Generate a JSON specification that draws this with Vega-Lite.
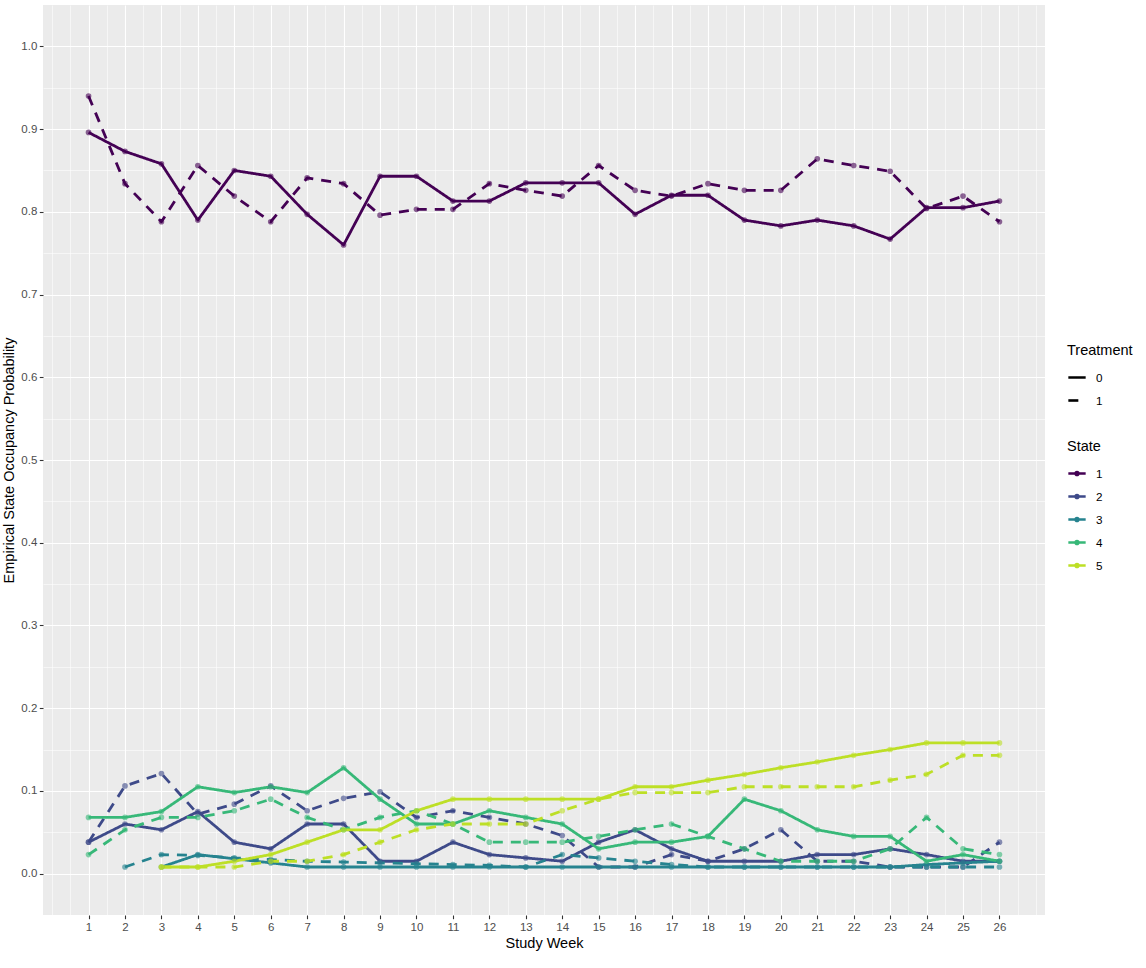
{
  "$schema": "https://vega.github.io/schema/vega-lite/v6.json",
  "width": 1002,
  "height": 910,
  "autosize": {"type": "none"},
  "padding": {"left": 43, "top": 5, "right": 101, "bottom": 53},
  "background": "white",
  "config": {
    "view": {"fill": "#EBEBEB", "stroke": null},
    "font": "Liberation Sans",
    "axis": {
      "domain": false,
      "gridColor": "white",
      "tickColor": "#333333",
      "tickWidth": 1.1,
      "tickSize": 3.7,
      "labelColor": "#4D4D4D",
      "labelFontSize": 11.5,
      "labelFont": "Liberation Sans",
      "titleFont": "Liberation Sans",
      "titleFontSize": 14.5,
      "titleFontWeight": "normal",
      "titleColor": "black"
    },
    "legend": {
      "titleFont": "Liberation Sans",
      "labelFont": "Liberation Sans",
      "titleFontSize": 14.5,
      "titleFontWeight": "normal",
      "titleColor": "black",
      "labelFontSize": 11.7,
      "labelColor": "black",
      "symbolType": "stroke",
      "symbolSize": 300,
      "symbolStrokeWidth": 2.6,
      "rowPadding": 6,
      "titlePadding": 9,
      "labelOffset": 9
    }
  },
  "data": {
    "values": [
      {"week":1,"state":"1","treatment":"0","prob":0.896},{"week":2,"state":"1","treatment":"0","prob":0.873},{"week":3,"state":"1","treatment":"0","prob":0.858},{"week":4,"state":"1","treatment":"0","prob":0.790},{"week":5,"state":"1","treatment":"0","prob":0.850},{"week":6,"state":"1","treatment":"0","prob":0.843},{"week":7,"state":"1","treatment":"0","prob":0.797},{"week":8,"state":"1","treatment":"0","prob":0.760},{"week":9,"state":"1","treatment":"0","prob":0.843},{"week":10,"state":"1","treatment":"0","prob":0.843},{"week":11,"state":"1","treatment":"0","prob":0.813},{"week":12,"state":"1","treatment":"0","prob":0.813},{"week":13,"state":"1","treatment":"0","prob":0.835},{"week":14,"state":"1","treatment":"0","prob":0.835},{"week":15,"state":"1","treatment":"0","prob":0.835},{"week":16,"state":"1","treatment":"0","prob":0.797},{"week":17,"state":"1","treatment":"0","prob":0.820},{"week":18,"state":"1","treatment":"0","prob":0.820},{"week":19,"state":"1","treatment":"0","prob":0.790},{"week":20,"state":"1","treatment":"0","prob":0.783},{"week":21,"state":"1","treatment":"0","prob":0.790},{"week":22,"state":"1","treatment":"0","prob":0.783},{"week":23,"state":"1","treatment":"0","prob":0.767},{"week":24,"state":"1","treatment":"0","prob":0.805},{"week":25,"state":"1","treatment":"0","prob":0.805},{"week":26,"state":"1","treatment":"0","prob":0.813},
      {"week":1,"state":"1","treatment":"1","prob":0.940},{"week":2,"state":"1","treatment":"1","prob":0.834},{"week":3,"state":"1","treatment":"1","prob":0.788},{"week":4,"state":"1","treatment":"1","prob":0.856},{"week":5,"state":"1","treatment":"1","prob":0.819},{"week":6,"state":"1","treatment":"1","prob":0.788},{"week":7,"state":"1","treatment":"1","prob":0.841},{"week":8,"state":"1","treatment":"1","prob":0.834},{"week":9,"state":"1","treatment":"1","prob":0.796},{"week":10,"state":"1","treatment":"1","prob":0.803},{"week":11,"state":"1","treatment":"1","prob":0.803},{"week":12,"state":"1","treatment":"1","prob":0.834},{"week":13,"state":"1","treatment":"1","prob":0.826},{"week":14,"state":"1","treatment":"1","prob":0.819},{"week":15,"state":"1","treatment":"1","prob":0.856},{"week":16,"state":"1","treatment":"1","prob":0.826},{"week":17,"state":"1","treatment":"1","prob":0.819},{"week":18,"state":"1","treatment":"1","prob":0.834},{"week":19,"state":"1","treatment":"1","prob":0.826},{"week":20,"state":"1","treatment":"1","prob":0.826},{"week":21,"state":"1","treatment":"1","prob":0.864},{"week":22,"state":"1","treatment":"1","prob":0.856},{"week":23,"state":"1","treatment":"1","prob":0.849},{"week":24,"state":"1","treatment":"1","prob":0.804},{"week":25,"state":"1","treatment":"1","prob":0.819},{"week":26,"state":"1","treatment":"1","prob":0.788},
      {"week":1,"state":"2","treatment":"0","prob":0.038},{"week":2,"state":"2","treatment":"0","prob":0.060},{"week":3,"state":"2","treatment":"0","prob":0.053},{"week":4,"state":"2","treatment":"0","prob":0.075},{"week":5,"state":"2","treatment":"0","prob":0.038},{"week":6,"state":"2","treatment":"0","prob":0.030},{"week":7,"state":"2","treatment":"0","prob":0.060},{"week":8,"state":"2","treatment":"0","prob":0.060},{"week":9,"state":"2","treatment":"0","prob":0.015},{"week":10,"state":"2","treatment":"0","prob":0.015},{"week":11,"state":"2","treatment":"0","prob":0.038},{"week":12,"state":"2","treatment":"0","prob":0.023},{"week":13,"state":"2","treatment":"0","prob":0.019},{"week":14,"state":"2","treatment":"0","prob":0.015},{"week":15,"state":"2","treatment":"0","prob":0.038},{"week":16,"state":"2","treatment":"0","prob":0.053},{"week":17,"state":"2","treatment":"0","prob":0.030},{"week":18,"state":"2","treatment":"0","prob":0.015},{"week":19,"state":"2","treatment":"0","prob":0.015},{"week":20,"state":"2","treatment":"0","prob":0.015},{"week":21,"state":"2","treatment":"0","prob":0.023},{"week":22,"state":"2","treatment":"0","prob":0.023},{"week":23,"state":"2","treatment":"0","prob":0.030},{"week":24,"state":"2","treatment":"0","prob":0.023},{"week":25,"state":"2","treatment":"0","prob":0.015},{"week":26,"state":"2","treatment":"0","prob":0.015},
      {"week":1,"state":"2","treatment":"1","prob":0.038},{"week":2,"state":"2","treatment":"1","prob":0.106},{"week":3,"state":"2","treatment":"1","prob":0.121},{"week":4,"state":"2","treatment":"1","prob":0.072},{"week":5,"state":"2","treatment":"1","prob":0.084},{"week":6,"state":"2","treatment":"1","prob":0.106},{"week":7,"state":"2","treatment":"1","prob":0.076},{"week":8,"state":"2","treatment":"1","prob":0.091},{"week":9,"state":"2","treatment":"1","prob":0.099},{"week":10,"state":"2","treatment":"1","prob":0.068},{"week":11,"state":"2","treatment":"1","prob":0.076},{"week":12,"state":"2","treatment":"1","prob":0.068},{"week":13,"state":"2","treatment":"1","prob":0.060},{"week":14,"state":"2","treatment":"1","prob":0.046},{"week":15,"state":"2","treatment":"1","prob":0.008},{"week":16,"state":"2","treatment":"1","prob":0.008},{"week":17,"state":"2","treatment":"1","prob":0.023},{"week":18,"state":"2","treatment":"1","prob":0.015},{"week":19,"state":"2","treatment":"1","prob":0.030},{"week":20,"state":"2","treatment":"1","prob":0.053},{"week":21,"state":"2","treatment":"1","prob":0.015},{"week":22,"state":"2","treatment":"1","prob":0.015},{"week":23,"state":"2","treatment":"1","prob":0.008},{"week":24,"state":"2","treatment":"1","prob":0.008},{"week":25,"state":"2","treatment":"1","prob":0.008},{"week":26,"state":"2","treatment":"1","prob":0.038},
      {"week":3,"state":"3","treatment":"0","prob":0.008},{"week":4,"state":"3","treatment":"0","prob":0.023},{"week":5,"state":"3","treatment":"0","prob":0.018},{"week":6,"state":"3","treatment":"0","prob":0.013},{"week":7,"state":"3","treatment":"0","prob":0.008},{"week":8,"state":"3","treatment":"0","prob":0.008},{"week":9,"state":"3","treatment":"0","prob":0.008},{"week":10,"state":"3","treatment":"0","prob":0.008},{"week":11,"state":"3","treatment":"0","prob":0.008},{"week":12,"state":"3","treatment":"0","prob":0.008},{"week":13,"state":"3","treatment":"0","prob":0.008},{"week":14,"state":"3","treatment":"0","prob":0.008},{"week":15,"state":"3","treatment":"0","prob":0.008},{"week":16,"state":"3","treatment":"0","prob":0.008},{"week":17,"state":"3","treatment":"0","prob":0.008},{"week":18,"state":"3","treatment":"0","prob":0.008},{"week":19,"state":"3","treatment":"0","prob":0.008},{"week":20,"state":"3","treatment":"0","prob":0.008},{"week":21,"state":"3","treatment":"0","prob":0.008},{"week":22,"state":"3","treatment":"0","prob":0.008},{"week":23,"state":"3","treatment":"0","prob":0.008},{"week":24,"state":"3","treatment":"0","prob":0.011},{"week":25,"state":"3","treatment":"0","prob":0.013},{"week":26,"state":"3","treatment":"0","prob":0.015},
      {"week":2,"state":"3","treatment":"1","prob":0.008},{"week":3,"state":"3","treatment":"1","prob":0.023},{"week":4,"state":"3","treatment":"1","prob":0.022},{"week":5,"state":"3","treatment":"1","prob":0.019},{"week":6,"state":"3","treatment":"1","prob":0.017},{"week":7,"state":"3","treatment":"1","prob":0.015},{"week":8,"state":"3","treatment":"1","prob":0.014},{"week":9,"state":"3","treatment":"1","prob":0.013},{"week":10,"state":"3","treatment":"1","prob":0.012},{"week":11,"state":"3","treatment":"1","prob":0.011},{"week":12,"state":"3","treatment":"1","prob":0.010},{"week":13,"state":"3","treatment":"1","prob":0.008},{"week":14,"state":"3","treatment":"1","prob":0.023},{"week":15,"state":"3","treatment":"1","prob":0.019},{"week":16,"state":"3","treatment":"1","prob":0.015},{"week":17,"state":"3","treatment":"1","prob":0.011},{"week":18,"state":"3","treatment":"1","prob":0.008},{"week":19,"state":"3","treatment":"1","prob":0.008},{"week":20,"state":"3","treatment":"1","prob":0.008},{"week":21,"state":"3","treatment":"1","prob":0.008},{"week":22,"state":"3","treatment":"1","prob":0.008},{"week":23,"state":"3","treatment":"1","prob":0.008},{"week":24,"state":"3","treatment":"1","prob":0.008},{"week":25,"state":"3","treatment":"1","prob":0.008},{"week":26,"state":"3","treatment":"1","prob":0.008},
      {"week":1,"state":"4","treatment":"0","prob":0.068},{"week":2,"state":"4","treatment":"0","prob":0.068},{"week":3,"state":"4","treatment":"0","prob":0.075},{"week":4,"state":"4","treatment":"0","prob":0.105},{"week":5,"state":"4","treatment":"0","prob":0.098},{"week":6,"state":"4","treatment":"0","prob":0.105},{"week":7,"state":"4","treatment":"0","prob":0.098},{"week":8,"state":"4","treatment":"0","prob":0.128},{"week":9,"state":"4","treatment":"0","prob":0.090},{"week":10,"state":"4","treatment":"0","prob":0.060},{"week":11,"state":"4","treatment":"0","prob":0.060},{"week":12,"state":"4","treatment":"0","prob":0.076},{"week":13,"state":"4","treatment":"0","prob":0.068},{"week":14,"state":"4","treatment":"0","prob":0.060},{"week":15,"state":"4","treatment":"0","prob":0.030},{"week":16,"state":"4","treatment":"0","prob":0.038},{"week":17,"state":"4","treatment":"0","prob":0.038},{"week":18,"state":"4","treatment":"0","prob":0.045},{"week":19,"state":"4","treatment":"0","prob":0.090},{"week":20,"state":"4","treatment":"0","prob":0.076},{"week":21,"state":"4","treatment":"0","prob":0.053},{"week":22,"state":"4","treatment":"0","prob":0.045},{"week":23,"state":"4","treatment":"0","prob":0.045},{"week":24,"state":"4","treatment":"0","prob":0.015},{"week":25,"state":"4","treatment":"0","prob":0.023},{"week":26,"state":"4","treatment":"0","prob":0.015},
      {"week":1,"state":"4","treatment":"1","prob":0.023},{"week":2,"state":"4","treatment":"1","prob":0.053},{"week":3,"state":"4","treatment":"1","prob":0.068},{"week":4,"state":"4","treatment":"1","prob":0.068},{"week":5,"state":"4","treatment":"1","prob":0.076},{"week":6,"state":"4","treatment":"1","prob":0.090},{"week":7,"state":"4","treatment":"1","prob":0.068},{"week":8,"state":"4","treatment":"1","prob":0.053},{"week":9,"state":"4","treatment":"1","prob":0.068},{"week":10,"state":"4","treatment":"1","prob":0.076},{"week":11,"state":"4","treatment":"1","prob":0.060},{"week":12,"state":"4","treatment":"1","prob":0.038},{"week":13,"state":"4","treatment":"1","prob":0.038},{"week":14,"state":"4","treatment":"1","prob":0.038},{"week":15,"state":"4","treatment":"1","prob":0.045},{"week":16,"state":"4","treatment":"1","prob":0.053},{"week":17,"state":"4","treatment":"1","prob":0.060},{"week":18,"state":"4","treatment":"1","prob":0.045},{"week":19,"state":"4","treatment":"1","prob":0.030},{"week":20,"state":"4","treatment":"1","prob":0.015},{"week":21,"state":"4","treatment":"1","prob":0.015},{"week":22,"state":"4","treatment":"1","prob":0.015},{"week":23,"state":"4","treatment":"1","prob":0.030},{"week":24,"state":"4","treatment":"1","prob":0.068},{"week":25,"state":"4","treatment":"1","prob":0.030},{"week":26,"state":"4","treatment":"1","prob":0.023},
      {"week":3,"state":"5","treatment":"0","prob":0.008},{"week":4,"state":"5","treatment":"0","prob":0.008},{"week":5,"state":"5","treatment":"0","prob":0.015},{"week":6,"state":"5","treatment":"0","prob":0.023},{"week":7,"state":"5","treatment":"0","prob":0.038},{"week":8,"state":"5","treatment":"0","prob":0.053},{"week":9,"state":"5","treatment":"0","prob":0.053},{"week":10,"state":"5","treatment":"0","prob":0.076},{"week":11,"state":"5","treatment":"0","prob":0.090},{"week":12,"state":"5","treatment":"0","prob":0.090},{"week":13,"state":"5","treatment":"0","prob":0.090},{"week":14,"state":"5","treatment":"0","prob":0.090},{"week":15,"state":"5","treatment":"0","prob":0.090},{"week":16,"state":"5","treatment":"0","prob":0.105},{"week":17,"state":"5","treatment":"0","prob":0.105},{"week":18,"state":"5","treatment":"0","prob":0.113},{"week":19,"state":"5","treatment":"0","prob":0.120},{"week":20,"state":"5","treatment":"0","prob":0.128},{"week":21,"state":"5","treatment":"0","prob":0.135},{"week":22,"state":"5","treatment":"0","prob":0.143},{"week":23,"state":"5","treatment":"0","prob":0.150},{"week":24,"state":"5","treatment":"0","prob":0.158},{"week":25,"state":"5","treatment":"0","prob":0.158},{"week":26,"state":"5","treatment":"0","prob":0.158},
      {"week":3,"state":"5","treatment":"1","prob":0.008},{"week":4,"state":"5","treatment":"1","prob":0.008},{"week":5,"state":"5","treatment":"1","prob":0.008},{"week":6,"state":"5","treatment":"1","prob":0.015},{"week":7,"state":"5","treatment":"1","prob":0.015},{"week":8,"state":"5","treatment":"1","prob":0.023},{"week":9,"state":"5","treatment":"1","prob":0.038},{"week":10,"state":"5","treatment":"1","prob":0.053},{"week":11,"state":"5","treatment":"1","prob":0.060},{"week":12,"state":"5","treatment":"1","prob":0.060},{"week":13,"state":"5","treatment":"1","prob":0.060},{"week":14,"state":"5","treatment":"1","prob":0.076},{"week":15,"state":"5","treatment":"1","prob":0.090},{"week":16,"state":"5","treatment":"1","prob":0.098},{"week":17,"state":"5","treatment":"1","prob":0.098},{"week":18,"state":"5","treatment":"1","prob":0.098},{"week":19,"state":"5","treatment":"1","prob":0.105},{"week":20,"state":"5","treatment":"1","prob":0.105},{"week":21,"state":"5","treatment":"1","prob":0.105},{"week":22,"state":"5","treatment":"1","prob":0.105},{"week":23,"state":"5","treatment":"1","prob":0.113},{"week":24,"state":"5","treatment":"1","prob":0.120},{"week":25,"state":"5","treatment":"1","prob":0.143},{"week":26,"state":"5","treatment":"1","prob":0.143}
    ]
  },
  "layer": [
    {
      "mark": {"type": "line", "strokeWidth": 2.8, "strokeCap": "butt", "strokeJoin": "round"},
      "encoding": {
        "x": {
          "field": "week", "type": "quantitative",
          "scale": {"domain": [-0.25, 27.25], "nice": false, "zero": false},
          "axis": {
            "orient": "bottom",
            "values": [0,0.5,1.5,2.5,3.5,4.5,5.5,6.5,7.5,8.5,9.5,10.5,11.5,12.5,13.5,14.5,15.5,16.5,17.5,18.5,19.5,20.5,21.5,22.5,23.5,24.5,25.5,26.5,27],
            "grid": true, "gridWidth": 0.55, "ticks": false, "labels": false, "title": null
          }
        },
        "y": {
          "field": "prob", "type": "quantitative",
          "scale": {"domain": [-0.05, 1.05], "nice": false, "zero": false},
          "axis": {
            "orient": "left",
            "values": [0.05,0.15,0.25,0.35,0.45,0.55,0.65,0.75,0.85,0.95],
            "grid": true, "gridWidth": 0.55, "ticks": false, "labels": false, "title": null
          }
        },
        "color": {
          "field": "state", "type": "nominal",
          "scale": {"domain": ["1","2","3","4","5"], "range": ["#440154","#3E4A89","#26838F","#37B878","#BDDF26"]},
          "legend": {
            "title": "State", "orient": "none", "legendX": 1024, "legendY": 435,
            "symbolType": "M-1,0H1M0,-0.18A0.18,0.18 0 1,1 0,0.18A0.18,0.18 0 1,1 0,-0.18"
          }
        },
        "strokeDash": {
          "field": "treatment", "type": "nominal",
          "scale": {"domain": ["0","1"], "range": [[1,0],[10,8]]},
          "legend": {"title": "Treatment", "orient": "none", "legendX": 1024, "legendY": 339, "symbolStrokeColor": "black", "symbolDashOffset": 0}
        }
      }
    },
    {
      "mark": {"type": "point", "filled": true, "size": 32, "opacity": 0.6},
      "encoding": {
        "x": {
          "field": "week", "type": "quantitative",
          "axis": {
            "orient": "bottom",
            "values": [1,2,3,4,5,6,7,8,9,10,11,12,13,14,15,16,17,18,19,20,21,22,23,24,25,26],
            "grid": true, "gridWidth": 1.1, "labelPadding": 3, "title": "Study Week", "titlePadding": 3
          }
        },
        "y": {
          "field": "prob", "type": "quantitative",
          "axis": {
            "orient": "left",
            "values": [0,0.1,0.2,0.3,0.4,0.5,0.6,0.7,0.8,0.9,1.0],
            "format": ".1f",
            "grid": true, "gridWidth": 1.1, "labelPadding": 2.5, "title": "Empirical State Occupancy Probability", "titlePadding": 4
          }
        },
        "color": {"field": "state", "type": "nominal", "legend": null}
      }
    }
  ],
  "resolve": {"axis": {"x": "independent", "y": "independent"}}
}
